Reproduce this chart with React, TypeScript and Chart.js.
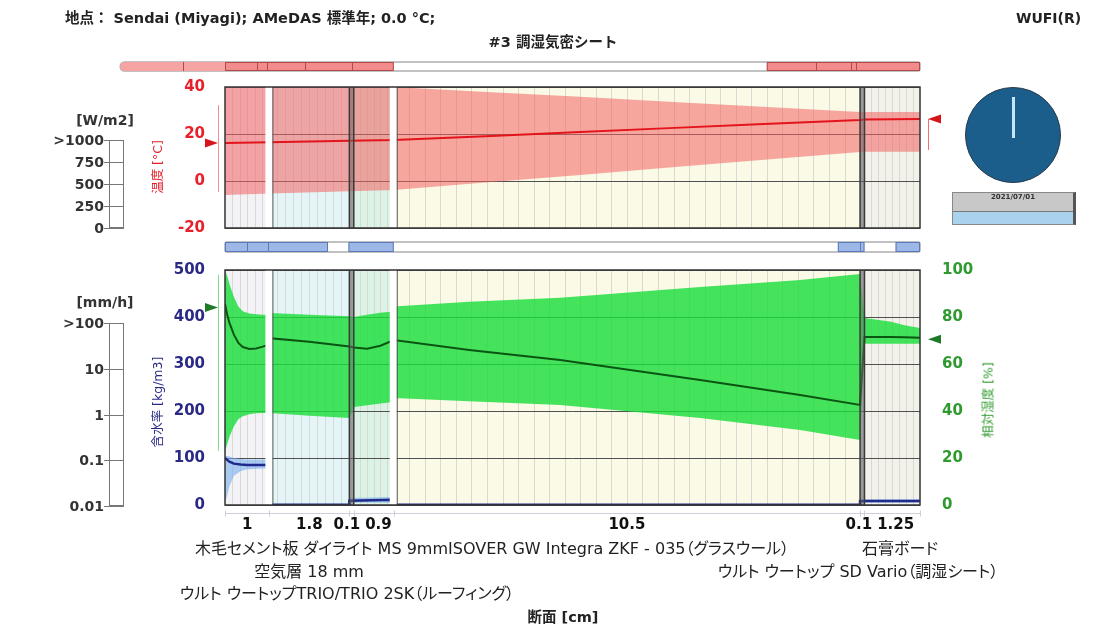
import React, { useEffect, useRef } from 'react';
import { Chart, registerables } from 'chart.js';

Chart.register(...registerables);

const W = 1104;
const H = 628;
const FONT = "'DejaVu Sans', 'Noto Sans CJK JP', sans-serif";

// ---------------- data ----------------
const layerThickness = [1, 1.8, 0.1, 0.9, 10.5, 0.1, 1.25];
const layerTickLabels = ['1', '1.8', '0.1', '0.9', '10.5', '0.1', '1.25'];
const materialNames = [
  '木毛セメント板',
  '空気層 18 mm',
  'ウルト ウートップTRIO/TRIO 2SK（ルーフィング）',
  'ダイライト MS 9mm',
  'ISOVER GW Integra ZKF - 035（グラスウール）',
  'ウルト ウートップ SD Vario（調湿シート）',
  '石膏ボード',
];

// temperature profile [°C]
const tempX = [0, 1, 2.8, 3.8, 6, 8, 10, 12, 14.3, 14.4, 15.65];
const tempMax = [46, 46, 46, 40, 37.8, 35.8, 33.7, 31.7, 29.4, 29.4, 29.4];
const tempMin = [-6, -5.3, -4.4, -3.8, -0.4, 2.6, 5.7, 8.8, 12.3, 12.5, 12.5];
const tempMean = [16.2, 16.5, 17.1, 17.4, 19.2, 20.9, 22.5, 24.1, 26.0, 26.2, 26.4];
const tempArrows = [16.2, 26.4]; // left, right boundary
const tempRangeLeft = [-4.7, 32.3];
const tempRangeRight = [13.2, 26.4];

// relative humidity profile [%]
const rhX = [0, 0.05, 0.1, 0.2, 0.3, 0.4, 0.55, 0.7, 0.85, 1, 1, 1.9, 2.8, 2.9, 3.2, 3.5, 3.8, 3.8, 5.5, 7.55, 10.7, 12.95, 14.3, 14.4, 14.6, 15, 15.3, 15.65];
const rhUpper = [100, 97.5, 94, 88.5, 84.5, 82.5, 81.5, 81.2, 81, 81, 81.7, 81, 80.3, 80, 81, 81.8, 82.3, 84.5, 86.5, 88.2, 92.8, 95.7, 98.3, 79.6, 79, 78, 76.5, 75.3];
const rhMean = [85.5, 81, 77.5, 72.5, 69, 67.2, 66.4, 66.6, 67.4, 68.3, 71, 69.5, 67.4, 67, 66.5, 67.8, 70.2, 70.2, 66, 61.7, 53.2, 46.8, 42.6, 71.5, 71.5, 71.5, 71.4, 71.2];
const rhLower = [23, 26, 29, 33.5, 36.5, 37.8, 38.6, 39, 39.1, 39.1, 39.1, 38, 37, 41.7, 42.5, 43.2, 43.8, 45.5, 44.2, 42.6, 37, 31.9, 27.7, 68.6, 68.6, 68.6, 68.6, 68.6];
const rhArrows = [84, 70.5];
const rhRangeLeft = [23, 98];

// water content profile [kg/m3]
const wX = [0, 0.05, 0.1, 0.2, 0.35, 0.5, 1, 1, 2.8, 2.8, 3.8, 3.8, 14.3, 14.3, 15.65];
const wMean = [100, 96, 92, 88, 86, 85, 85, 0.5, 0.5, 9, 11, 0.5, 0.5, 8.5, 8.5];
const wUpper = [104, 104, 103, 100, 98, 97, 97, 1, 1, 15, 17, 1, 1, 12, 12];
const wLower = [5, 20, 40, 62, 72, 76, 78, 0, 0, 5, 6, 0, 0, 5, 5];

// indicator strips [cm]
const tempStripTrack = [-2.36, 15.65];
const tempStripSegments = [[-2.36, 0], [0, 3.8], [12.2, 15.65]];
const tempStripDividers = [-0.95, 0.72, 0.95, 1.8, 2.85, 13.3, 14.1, 14.2];
const rhStripTrack = [0, 15.65];
const rhStripSegments = [[0, 2.32], [2.78, 3.8], [13.8, 14.4], [15.1, 15.65]];
const rhStripDividers = [0.5, 0.97, 14.3];

// gauges
const radiationLabels = ['>1000', '750', '500', '250', '0'];
const rainLabels = ['>100', '10', '1', '0.1', '0.01'];

// ---------------- derived ----------------
const bounds: number[] = [0];
layerThickness.forEach((t) => bounds.push(+(bounds[bounds.length - 1] + t).toFixed(3)));
const TOTAL = bounds[bounds.length - 1];
const centers = layerThickness.map((t, i) => bounds[i] + t / 2);

// ---------------- styles ----------------
const layerFills = ['#f2f2f7', '#e3f5f8', '#bdbdbd', '#daf3e5', '#fbfae6', '#bdbdbd', '#f2f2ea'];
const layerMesh = [6, 10, 0, 6, 30, 0, 8];
const thinLayers = [2, 5];
const gapBoundaries = [1, 4];

const pts = (xs: number[], ys: number[]) => xs.map((x, i) => ({ x, y: ys[i] }));

function drawStrip(ctx: CanvasRenderingContext2D, xs: any, y: number, h: number, s: any) {
  const xa = xs.getPixelForValue(s.track[0]);
  const xb = xs.getPixelForValue(s.track[1]);
  ctx.save();
  ctx.fillStyle = '#ffffff';
  ctx.strokeStyle = '#aeaeae';
  ctx.lineWidth = 1.5;
  ctx.beginPath();
  ctx.roundRect(xa, y, xb - xa, h, s.roundLeft ? [h / 2, 2, 2, h / 2] : 2);
  ctx.fill();
  ctx.stroke();
  s.segments.forEach((seg: number[], i: number) => {
    const a = xs.getPixelForValue(seg[0]);
    const b = xs.getPixelForValue(seg[1]);
    const faded = s.faded && s.faded.includes(i);
    ctx.fillStyle = faded ? s.fadedColor : s.color;
    ctx.beginPath();
    ctx.roundRect(a, y, b - a, h, faded ? [h / 2, 0, 0, h / 2] : 1);
    ctx.fill();
    if (!faded) {
      ctx.strokeStyle = s.edge;
      ctx.lineWidth = 1;
      ctx.strokeRect(a + 0.5, y + 0.5, b - a - 1, h - 1);
    }
  });
  ctx.strokeStyle = s.edge;
  ctx.lineWidth = 1;
  s.dividers.forEach((d: number) => {
    const px = Math.round(xs.getPixelForValue(d)) + 0.5;
    ctx.beginPath();
    ctx.moveTo(px, y);
    ctx.lineTo(px, y + h);
    ctx.stroke();
  });
  ctx.restore();
}

const layerPlugin = {
  id: 'layers',
  beforeDraw(chart: any) {
    const { ctx, chartArea: ca, scales } = chart;
    const xs = scales.x;
    ctx.save();
    for (let i = 0; i < layerThickness.length; i++) {
      const x0 = xs.getPixelForValue(bounds[i]);
      const x1 = xs.getPixelForValue(bounds[i + 1]);
      ctx.fillStyle = layerFills[i];
      ctx.fillRect(x0, ca.top, x1 - x0, ca.bottom - ca.top);
      const n = layerMesh[i];
      ctx.strokeStyle = '#d9d9d2';
      ctx.lineWidth = 1;
      for (let k = 1; k < n; k++) {
        const px = Math.round(xs.getPixelForValue(bounds[i] + (layerThickness[i] * k) / n)) + 0.5;
        ctx.beginPath();
        ctx.moveTo(px, ca.top);
        ctx.lineTo(px, ca.bottom);
        ctx.stroke();
      }
    }
    ctx.restore();
  },
  afterDatasetsDraw(chart: any) {
    const { ctx, chartArea: ca, scales } = chart;
    const xs = scales.x;
    const h = ca.bottom - ca.top;
    ctx.save();
    thinLayers.forEach((i) => {
      const x0 = xs.getPixelForValue(bounds[i]);
      const x1 = xs.getPixelForValue(bounds[i + 1]);
      ctx.fillStyle = 'rgba(110,110,110,0.45)';
      ctx.fillRect(x0, ca.top, x1 - x0, h);
      ctx.strokeStyle = '#3a3a3a';
      ctx.lineWidth = 1.5;
      [x0, x1].forEach((x) => {
        ctx.beginPath();
        ctx.moveTo(x, ca.top);
        ctx.lineTo(x, ca.bottom);
        ctx.stroke();
      });
    });
    gapBoundaries.forEach((b) => {
      const x = xs.getPixelForValue(bounds[b]);
      ctx.fillStyle = '#ffffff';
      ctx.fillRect(x - 4, ca.top, 7, h);
      ctx.strokeStyle = '#555';
      ctx.lineWidth = 1;
      ctx.beginPath();
      ctx.moveTo(x + 3.5, ca.top);
      ctx.lineTo(x + 3.5, ca.bottom);
      ctx.stroke();
    });
    ctx.strokeStyle = '#333';
    ctx.lineWidth = 1.5;
    ctx.strokeRect(ca.left, ca.top, ca.right - ca.left, h);
    ctx.restore();
  },
  afterDraw(chart: any, _args: any, opts: any) {
    const { ctx, chartArea: ca, scales } = chart;
    const xs = scales.x;
    ctx.save();
    if (opts.strip) drawStrip(ctx, xs, ca.top + opts.strip.offset, opts.strip.height, opts.strip);
    (opts.ranges || []).forEach((r: any) => {
      const ys = scales[r.axis];
      const x = (r.side === 'left' ? ca.left - 7 : ca.right + 8) + 0.5;
      ctx.strokeStyle = r.color;
      ctx.lineWidth = 1;
      ctx.beginPath();
      ctx.moveTo(x, ys.getPixelForValue(r.from));
      ctx.lineTo(x, ys.getPixelForValue(r.to));
      ctx.stroke();
    });
    (opts.arrows || []).forEach((a: any) => {
      const ys = scales[a.axis];
      const y = ys.getPixelForValue(a.value);
      ctx.fillStyle = a.color;
      ctx.beginPath();
      if (a.side === 'left') {
        const tip = ca.left - 7;
        ctx.moveTo(tip, y);
        ctx.lineTo(tip - 13, y - 4.5);
        ctx.lineTo(tip - 13, y + 4.5);
      } else {
        const tip = ca.right + 8;
        ctx.moveTo(tip, y);
        ctx.lineTo(tip + 13, y - 4.5);
        ctx.lineTo(tip + 13, y + 4.5);
      }
      ctx.closePath();
      ctx.fill();
    });
    if (opts.baseLine) {
      const y = ca.bottom + 8.5;
      ctx.strokeStyle = '#cfcfd8';
      ctx.lineWidth = 1;
      ctx.beginPath();
      ctx.moveTo(ca.left, y);
      ctx.lineTo(ca.right, y);
      ctx.stroke();
      bounds.forEach((b) => {
        const px = Math.round(xs.getPixelForValue(b)) + 0.5;
        ctx.beginPath();
        ctx.moveTo(px, y - 3);
        ctx.lineTo(px, y + 3);
        ctx.stroke();
      });
    }
    if (opts.tickLabels) {
      // layer thickness labels at layer centres, nudged apart where they collide
      const t = opts.tickLabels;
      ctx.font = `bold ${t.size}px ${FONT}`;
      ctx.fillStyle = t.color;
      ctx.textAlign = 'center';
      ctx.textBaseline = 'middle';
      const items = t.values.map((v: number, i: number) => ({
        c: xs.getPixelForValue(v),
        w: ctx.measureText(t.labels[i]).width,
        s: t.labels[i],
      }));
      for (let pass = 0; pass < 4; pass++) {
        for (let i = 0; i < items.length - 1; i++) {
          const a = items[i];
          const b = items[i + 1];
          const need = a.w / 2 + b.w / 2 + t.gap;
          const have = b.c - a.c;
          if (have < need) {
            const d = (need - have) / 2;
            a.c -= d;
            b.c += d;
          }
        }
      }
      items.forEach((it: any) => ctx.fillText(it.s, it.c, ca.bottom + t.offset));
    }
    ctx.restore();
  },
};

const hidden = { borderColor: 'rgba(0,0,0,0)', borderWidth: 0, pointRadius: 0 };

function topConfig(): any {
  return {
    type: 'line',
    data: {
      datasets: [
        { data: pts(tempX, tempMax), ...hidden, fill: '+1', backgroundColor: 'rgba(243,100,100,0.56)', order: 2 },
        { data: pts(tempX, tempMin), ...hidden, fill: false, order: 2 },
        { data: pts(tempX, tempMean), borderColor: '#e3141b', borderWidth: 2, pointRadius: 0, fill: false, order: 1 },
      ],
    },
    options: {
      responsive: false,
      maintainAspectRatio: false,
      animation: false,
      events: [],
      layout: { padding: { left: 0, right: W - 920, top: 87, bottom: H - 228 } },
      plugins: {
        legend: { display: false },
        tooltip: { enabled: false },
        layers: {
          strip: {
            offset: -25, height: 9, track: tempStripTrack, segments: tempStripSegments,
            dividers: tempStripDividers, color: '#f28b8b', fadedColor: '#f6a3a3', faded: [0],
            edge: '#b24a4a', roundLeft: true,
          },
          arrows: [
            { axis: 'y', side: 'left', value: tempArrows[0], color: '#d8141b' },
            { axis: 'y', side: 'right', value: tempArrows[1], color: '#d8141b' },
          ],
          ranges: [
            { axis: 'y', side: 'left', from: tempRangeLeft[0], to: tempRangeLeft[1], color: '#f09090' },
            { axis: 'y', side: 'right', from: tempRangeRight[0], to: tempRangeRight[1], color: '#f07070' },
          ],
        },
      },
      scales: {
        x: { type: 'linear', min: 0, max: TOTAL, display: false },
        y: {
          min: -20, max: 40,
          afterFit: (s: any) => { s.width = 225; },
          ticks: { stepSize: 20, color: '#e8202a', font: { family: FONT, size: 15, weight: 'bold' }, padding: 20 },
          grid: { color: '#505050', drawTicks: false },
          border: { display: false },
        },
      },
    },
    plugins: [layerPlugin],
  };
}

function bottomConfig(): any {
  return {
    type: 'line',
    data: {
      datasets: [
        { data: pts(rhX, rhUpper), ...hidden, fill: '+1', backgroundColor: 'rgba(28,222,60,0.82)', yAxisID: 'y1', order: 4 },
        { data: pts(rhX, rhLower), ...hidden, fill: false, yAxisID: 'y1', order: 4 },
        { data: pts(wX, wUpper), ...hidden, fill: '+1', backgroundColor: 'rgba(120,175,235,0.6)', yAxisID: 'y', order: 3 },
        { data: pts(wX, wLower), ...hidden, fill: false, yAxisID: 'y', order: 3 },
        { data: pts(rhX, rhMean), borderColor: '#0b5512', borderWidth: 2, pointRadius: 0, fill: false, yAxisID: 'y1', order: 1 },
        { data: pts(wX, wMean), borderColor: '#1f2a8c', borderWidth: 2.5, pointRadius: 0, fill: false, yAxisID: 'y', order: 0 },
      ],
    },
    options: {
      responsive: false,
      maintainAspectRatio: false,
      animation: false,
      events: [],
      layout: { padding: { left: 0, right: 0, top: 270, bottom: H - 505 - 30 } },
      plugins: {
        legend: { display: false },
        tooltip: { enabled: false },
        layers: {
          strip: {
            offset: -28, height: 10, track: rhStripTrack, segments: rhStripSegments,
            dividers: rhStripDividers, color: '#9db7e6', edge: '#5b78b8', roundLeft: false,
          },
          arrows: [
            { axis: 'y1', side: 'left', value: rhArrows[0], color: '#1e7a26' },
            { axis: 'y1', side: 'right', value: rhArrows[1], color: '#1e7a26' },
          ],
          ranges: [
            { axis: 'y1', side: 'left', from: rhRangeLeft[0], to: rhRangeLeft[1], color: '#7ee08a' },
          ],
          baseLine: true,
          tickLabels: { values: centers, labels: layerTickLabels, size: 15, color: '#111', offset: 20, gap: 5 },
        },
      },
      scales: {
        x: {
          type: 'linear', min: 0, max: TOTAL,
          afterBuildTicks: (s: any) => { s.ticks = centers.map((v) => ({ value: v })); },
          afterFit: (s: any) => { s.height = 30; },
          ticks: { display: false },
          grid: { display: false, drawTicks: false },
          border: { display: false },
        },
        y: {
          position: 'left', min: 0, max: 500,
          afterFit: (s: any) => { s.width = 225; },
          ticks: { stepSize: 100, color: '#2a2a86', font: { family: FONT, size: 15, weight: 'bold' }, padding: 20 },
          grid: { color: '#505050', drawTicks: false },
          border: { display: false },
        },
        y1: {
          position: 'right', min: 0, max: 100,
          afterFit: (s: any) => { s.width = W - 920; },
          ticks: { stepSize: 20, color: '#2f9a2f', font: { family: FONT, size: 15, weight: 'bold' }, padding: 22 },
          grid: { display: false, drawTicks: false },
          border: { display: false },
        },
      },
    },
    plugins: [layerPlugin],
  };
}

// ---------------- html helpers ----------------
const abs = (x: number, y: number, extra: any = {}) => ({ position: 'absolute' as const, left: x, top: y, whiteSpace: 'nowrap' as const, ...extra });

function Gauge({ top, bottom, labels, title, titleY }: { top: number; bottom: number; labels: string[]; title: string; titleY: number }) {
  const n = labels.length;
  return (
    <>
      <div style={abs(105, titleY - 9, { transform: 'translateX(-50%)', fontWeight: 'bold', fontSize: 14, lineHeight: '18px', color: '#333' })}>{title}</div>
      <div style={abs(109, top, { width: 15, height: bottom - top, border: '1px solid #777', boxSizing: 'border-box', background: '#fff' })} />
      {labels.map((l, i) => {
        const y = top + ((bottom - top) * i) / (n - 1);
        return (
          <React.Fragment key={i}>
            <div style={abs(104, Math.round(y), { width: 20, height: 1, background: '#777' })} />
            <div style={abs(0, y - 9, { width: 104, textAlign: 'right', fontWeight: 'bold', fontSize: 14, lineHeight: '18px', color: '#333' })}>{l}</div>
          </React.Fragment>
        );
      })}
    </>
  );
}

function VTitle({ x, y, text, color }: { x: number; y: number; text: string; color: string }) {
  return (
    <div style={abs(x, y, { transform: 'translate(-50%,-50%) rotate(-90deg)', fontSize: 12.5, lineHeight: '15px', color })}>{text}</div>
  );
}

const matStyle = { fontSize: 16, lineHeight: '20px', color: '#222', fontFeatureSettings: '"palt" 1' };

export default function App() {
  const topRef = useRef<HTMLCanvasElement>(null);
  const botRef = useRef<HTMLCanvasElement>(null);

  useEffect(() => {
    const c1 = new Chart(topRef.current as HTMLCanvasElement, topConfig());
    const c2 = new Chart(botRef.current as HTMLCanvasElement, bottomConfig());
    return () => {
      c1.destroy();
      c2.destroy();
    };
  }, []);

  const cv = { position: 'absolute' as const, left: 0, top: 0, width: W, height: H };

  return (
    <div style={{ position: 'absolute', left: 0, top: 0, width: W, height: H, background: '#fff', overflow: 'hidden', fontFamily: FONT }}>
      <canvas ref={topRef} width={W} height={H} style={cv} />
      <canvas ref={botRef} width={W} height={H} style={cv} />

      {/* header */}
      <div style={abs(65, 9, { fontWeight: 'bold', fontSize: 14.5, lineHeight: '18px', color: '#222' })}>地点： Sendai (Miyagi); AMeDAS 標準年; 0.0 °C;</div>
      <div style={abs(1016, 9, { fontWeight: 'bold', fontSize: 14, lineHeight: '18px', color: '#222' })}>WUFI(R)</div>
      <div style={abs(553, 33, { transform: 'translateX(-50%)', fontWeight: 'bold', fontSize: 14.5, lineHeight: '18px', color: '#222' })}>#3 調湿気密シート</div>

      {/* gauges */}
      <Gauge top={140} bottom={228} labels={radiationLabels} title="[W/m2]" titleY={120} />
      <Gauge top={323} bottom={506} labels={rainLabels} title="[mm/h]" titleY={302} />

      {/* axis titles */}
      <VTitle x={157} y={167} text="温度 [°C]" color="#e8202a" />
      <VTitle x={157} y={402} text="含水率 [kg/m3]" color="#2a2a86" />
      <VTitle x={988} y={400} text="相対湿度 [%]" color="#2f9a2f" />

      {/* clock */}
      <div style={abs(965, 87, { width: 96, height: 96, borderRadius: '50%', background: '#1b5e8b', border: '1px solid #2a3a4a', boxSizing: 'border-box' })} />
      <div style={abs(1012, 97, { width: 3, height: 41, background: '#c4e6f8' })} />
      <div style={abs(952, 192, { width: 124, height: 33, border: '1px solid #888', borderRight: '3px solid #555', boxSizing: 'border-box', background: '#c8c8c8' })}>
        <div style={{ position: 'absolute', left: 0, right: 0, bottom: 0, height: 12, background: '#a9d2ee', borderTop: '1px solid #777' }} />
        <div style={{ position: 'absolute', left: 0, right: 0, top: 0, textAlign: 'center', fontSize: 7, fontWeight: 'bold', lineHeight: '9px', color: '#333' }}>2021/07/01</div>
      </div>

      {/* material names */}
      <div style={abs(195, 539, matStyle)}>
        <span>{materialNames[0]}</span> <span>{materialNames[3]}</span><span>{materialNames[4]}</span>
      </div>
      <div style={abs(900, 539, { ...matStyle, transform: 'translateX(-50%)' })}>{materialNames[6]}</div>
      <div style={abs(309, 562, { ...matStyle, transform: 'translateX(-50%)' })}>{materialNames[1]}</div>
      <div style={abs(858, 562, { ...matStyle, transform: 'translateX(-50%)' })}>{materialNames[5]}</div>
      <div style={abs(347, 584, { ...matStyle, transform: 'translateX(-50%)' })}>{materialNames[2]}</div>
      <div style={abs(563, 607, { transform: 'translateX(-50%)', fontWeight: 'bold', fontSize: 14.5, lineHeight: '20px', color: '#222' })}>断面 [cm]</div>
    </div>
  );
}
